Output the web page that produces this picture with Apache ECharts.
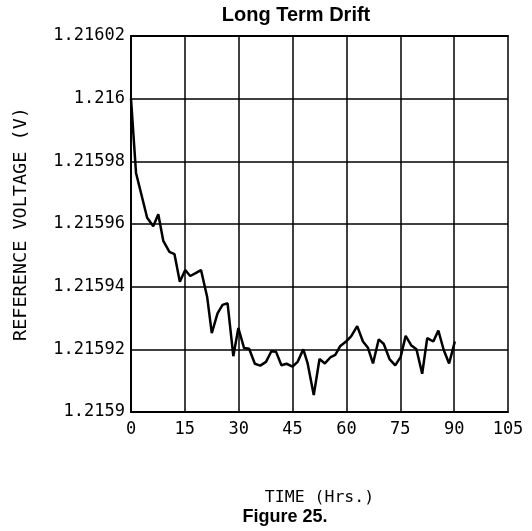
<!DOCTYPE html>
<html>
<head>
<meta charset="utf-8">
<script src="https://cdn.jsdelivr.net/npm/echarts@6/dist/echarts.min.js"></script>
<style>html,body{margin:0;padding:0;background:#fff;}#c{width:532px;height:531px;}</style>
</head>
<body>
<div id="c"></div>
<script>
const timeHrs = [0, 1.4, 4.5, 6.2, 7.6, 9.0, 10.7, 12.1, 13.6, 15.1, 16.5, 18.0, 19.5, 21.2, 22.5, 24.1, 25.5, 26.9, 28.5, 29.9,
  31.5, 32.9, 34.5, 36.0, 37.6, 39.1, 40.4, 41.9, 43.3, 45.0, 46.4, 48.0, 49.2, 50.9, 52.5, 54.0, 55.5, 56.9, 58.3, 59.9,
  61.3, 63.0, 64.6, 66.0, 67.4, 69.0, 70.4, 72.0, 73.6, 75.1, 76.5, 78.1, 79.5, 81.1, 82.5, 84.2, 85.6, 87.1, 88.6, 90.2];
const refVoltage = [1.2160000, 1.2159763, 1.2159620, 1.2159593, 1.2159631, 1.2159546, 1.2159511, 1.2159504, 1.2159416, 1.2159453,
  1.2159434, 1.2159443, 1.2159453, 1.2159368, 1.2159252, 1.2159315, 1.2159342, 1.2159347, 1.2159178, 1.2159268,
  1.2159204, 1.2159202, 1.2159154, 1.2159148, 1.2159160, 1.2159194, 1.2159192, 1.2159149, 1.2159154, 1.2159145,
  1.2159160, 1.2159200, 1.2159155, 1.2159054, 1.2159169, 1.2159155, 1.2159174, 1.2159182, 1.2159211, 1.2159225,
  1.2159241, 1.2159274, 1.2159225, 1.2159205, 1.2159155, 1.2159232, 1.2159217, 1.2159169, 1.2159149, 1.2159176,
  1.2159243, 1.2159212, 1.2159200, 1.2159122, 1.2159236, 1.2159225, 1.2159260, 1.2159198, 1.2159155, 1.2159225];
const xTicks = {min: 0, max: 105, interval: 15};
const yTicks = {min: 1.2159, max: 1.21602, interval: 0.00002};

const chart = echarts.init(document.getElementById('c'));
const mono = '"DejaVu Sans Mono", monospace';
const border = {show: true, lineStyle: {color: '#000', width: 2}};
chart.setOption({
  animation: false,
  backgroundColor: '#fff',
  grid: {left: 131, right: 24, top: 36, bottom: 119},
  graphic: [
    {type: 'text', x: 296, y: 15, style: {text: 'Long Term Drift', textAlign: 'center', textVerticalAlign: 'middle',
      font: 'bold 20px "Liberation Sans", Arial, sans-serif', fill: '#000'}},
    {type: 'text', x: 285, y: 517, style: {text: 'Figure 25.', textAlign: 'center', textVerticalAlign: 'middle',
      font: 'bold 18px "Liberation Sans", Arial, sans-serif', fill: '#000'}}
  ],
  xAxis: [{
    type: 'value', min: xTicks.min, max: xTicks.max, interval: xTicks.interval,
    name: 'TIME (Hrs.)', nameLocation: 'middle', nameGap: 77,
    nameTextStyle: {fontFamily: mono, fontSize: 16.5, color: '#000'},
    axisLine: border,
    axisTick: {show: false},
    axisLabel: {color: '#000', fontFamily: mono, fontSize: 17, margin: 9},
    splitLine: {show: true, lineStyle: {color: '#000', width: 1.5}}
  }, {
    type: 'value', position: 'top', min: xTicks.min, max: xTicks.max,
    axisLine: border, axisTick: {show: false}, axisLabel: {show: false}, splitLine: {show: false}
  }],
  yAxis: [{
    type: 'value', min: yTicks.min, max: yTicks.max, interval: yTicks.interval,
    name: 'REFERENCE VOLTAGE (V)', nameLocation: 'middle', nameGap: 100,
    nameTextStyle: {fontFamily: mono, fontSize: 18.5, color: '#000'},
    axisLine: border,
    axisTick: {show: false},
    axisLabel: {color: '#000', fontFamily: mono, fontSize: 17, margin: 6},
    splitLine: {show: true, lineStyle: {color: '#000', width: 1.5}}
  }, {
    type: 'value', position: 'right', min: yTicks.min, max: yTicks.max,
    axisLine: border, axisTick: {show: false}, axisLabel: {show: false}, splitLine: {show: false}
  }],
  series: [{
    type: 'line',
    data: timeHrs.map((t, i) => [t, refVoltage[i]]),
    showSymbol: false,
    lineStyle: {color: '#000', width: 2.5},
    z: 5
  }]
});
</script>
</body>
</html>
